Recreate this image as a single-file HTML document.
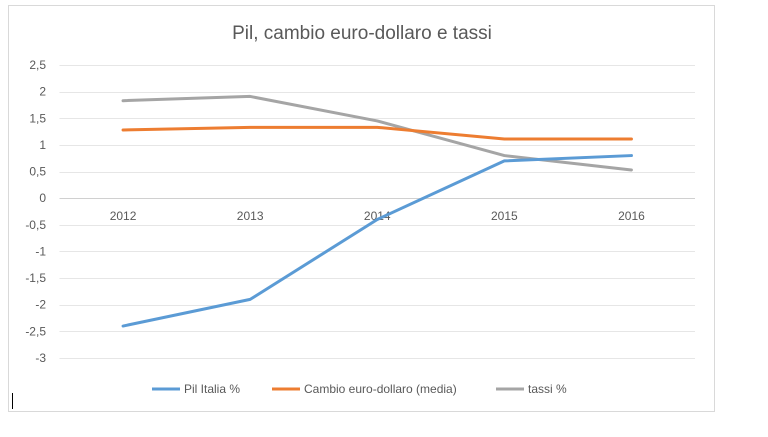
<!DOCTYPE html>
<html><head><meta charset="utf-8"><style>
body{margin:0;background:#fff;width:768px;height:432px;overflow:hidden;font-family:"Liberation Sans",Arial,sans-serif}
</style></head><body>
<svg width="768" height="432" xmlns="http://www.w3.org/2000/svg">
<rect x="8.5" y="5.5" width="706" height="406" fill="#fff" stroke="#d9d9d9"/>
<text x="362" y="39" text-anchor="middle" font-size="19" fill="#595959">Pil, cambio euro-dollaro e tassi</text>
<g id="grid"></g><g id="series"></g>
<g font-size="12" fill="#595959">
<line x1="152" y1="389" x2="180" y2="389" stroke="#5b9bd5" stroke-width="3"/>
<text x="184" y="393">Pil Italia %</text>
<line x1="272" y1="389" x2="300" y2="389" stroke="#ed7d31" stroke-width="3"/>
<text x="304" y="393">Cambio euro-dollaro (media)</text>
<line x1="496" y1="389" x2="524" y2="389" stroke="#a5a5a5" stroke-width="3"/>
<text x="528" y="393">tassi %</text>
</g>
<line x1="12.5" y1="393" x2="12.5" y2="409" stroke="#000"/>
</svg>
<script>
const categories=["2012","2013","2014","2015","2016"];
const pil=[-2.4,-1.9,-0.4,0.7,0.8];
const cambio=[1.28,1.33,1.33,1.11,1.11];
const tassi=[1.83,1.91,1.45,0.8,0.53];
const yTicks=[2.5,2,1.5,1,0.5,0,-0.5,-1,-1.5,-2,-2.5,-3];
const NS="http://www.w3.org/2000/svg";
const plotL=59.5,plotR=695,plotTop=65,plotBot=358;
const yS=v=>plotTop+(2.5-v)*(plotBot-plotTop)/5.5;
const xS=i=>plotL+(plotR-plotL)/categories.length*(i+0.5);
const g=document.getElementById('grid');
yTicks.forEach(t=>{
 const ln=document.createElementNS(NS,'line');
 ln.setAttribute('x1',plotL);ln.setAttribute('x2',plotR);
 ln.setAttribute('y1',Math.round(yS(t))+0.5);ln.setAttribute('y2',Math.round(yS(t))+0.5);
 ln.setAttribute('stroke',t===0?'#d0d0d0':'#e6e6e6');
 
 
 g.appendChild(ln);
 const tx=document.createElementNS(NS,'text');
 tx.setAttribute('x',46);tx.setAttribute('y',yS(t)+4);tx.setAttribute('text-anchor','end');
 tx.setAttribute('font-size','12');tx.setAttribute('fill','#595959');
 tx.textContent=String(t).replace('.',',');
 
 
 g.appendChild(tx);
});
categories.forEach((c,i)=>{
 const tx=document.createElementNS(NS,'text');
 tx.setAttribute('x',xS(i));tx.setAttribute('y',yS(0)+22);tx.setAttribute('text-anchor','middle');
 tx.setAttribute('font-size','12');tx.setAttribute('fill','#595959');
 tx.textContent=c;
 
 
 g.appendChild(tx);
});
const s=document.getElementById('series');
[[tassi,'#a5a5a5','line-tassi'],[cambio,'#ed7d31','line-cambio'],[pil,'#5b9bd5','line-pil']].forEach(([d,col,n])=>{
 const p=document.createElementNS(NS,'polyline');
 p.setAttribute('points',d.map((v,i)=>xS(i)+','+yS(v)).join(' '));
 p.setAttribute('fill','none');p.setAttribute('stroke',col);p.setAttribute('stroke-width','3');
 p.setAttribute('stroke-linejoin','round');p.setAttribute('stroke-linecap','round');
 
 
 s.appendChild(p);
});
</script>
</body></html>
